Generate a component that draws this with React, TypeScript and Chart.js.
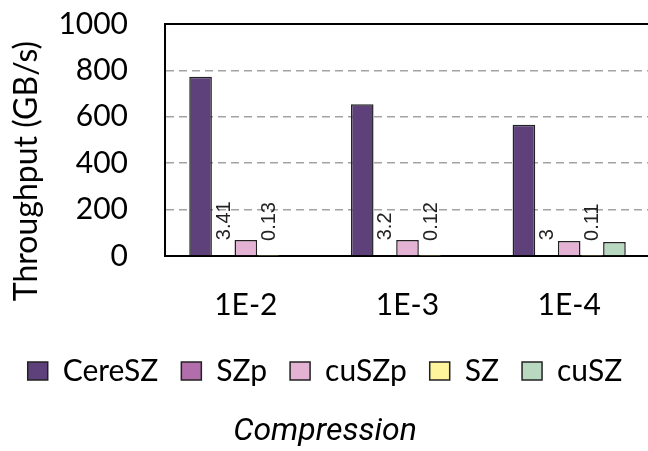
import React, { useEffect, useRef } from 'react';
import { Chart, registerables } from 'chart.js';

Chart.register(...registerables);

// ---- data ----
const categories = ['1E-2', '1E-3', '1E-4'];
const seriesNames = ['CereSZ', 'SZp', 'cuSZp', 'SZ', 'cuSZ'];
const cereSZValues = [773, 654, 566];
const szpValues = [3.41, 3.2, 3];
const cuSZpValues = [69, 69, 65];
const szValues = [0.13, 0.12, 0.11];
const cuSZValues: (number | null)[] = [null, null, 60];
const yTickValues = [0, 200, 400, 600, 800, 1000];
const labeledSeries = ['SZp', 'SZ'];
const yAxisTitle = 'Throughput (GB/s)';
const xAxisTitle = 'Compression';

// ---- styles ----
const fillColors = ['#5e417b', '#b26eaa', '#e4b3d4', '#fff59c', '#b8d8bf'];
const edgeColor = '#222222';
const tickFont = 'Lato';

const seriesValues = [cereSZValues, szpValues, cuSZpValues, szValues, cuSZValues];

const decorPlugin = {
  id: 'decor',
  afterDatasetsDraw(chart: any) {
    const { ctx, chartArea } = chart;
    // top frame line
    ctx.save();
    ctx.strokeStyle = '#000';
    ctx.lineWidth = 2;
    ctx.beginPath();
    ctx.moveTo(chartArea.left - 1, chartArea.top);
    ctx.lineTo(chartArea.right + 2, chartArea.top);
    ctx.stroke();
    ctx.restore();

    // rotated value labels
    chart.data.datasets.forEach((ds: any, i: number) => {
      if (!labeledSeries.includes(ds.label)) return;
      const meta = chart.getDatasetMeta(i);
      meta.data.forEach((bar: any, j: number) => {
        const v = ds.data[j];
        if (v === null || v === undefined) return;
        ctx.save();
        ctx.translate(bar.x + 1, bar.y - 15);
        ctx.rotate(-Math.PI / 2);
        ctx.font = '20px "Liberation Sans", Arial, sans-serif';
        ctx.fillStyle = '#222';
        ctx.textAlign = 'left';
        ctx.textBaseline = 'middle';
        ctx.fillText(String(v), 0, 0);
        ctx.restore();
      });
    });

    // y axis title
    ctx.save();
    ctx.translate(27, 171);
    ctx.rotate(-Math.PI / 2);
    ctx.font = `32px ${tickFont}`;
    ctx.fillStyle = '#000';
    ctx.textAlign = 'center';
    ctx.textBaseline = 'middle';
    ctx.fillText(yAxisTitle, 0, 0);
    ctx.restore();
  },
};

export default function App() {
  const canvasRef = useRef<HTMLCanvasElement | null>(null);

  useEffect(() => {
    if (!canvasRef.current) return;
    const chart = new Chart(canvasRef.current, {
      type: 'bar',
      data: {
        labels: categories,
        datasets: seriesNames.map((name, i) => ({
          label: name,
          data: seriesValues[i],
          backgroundColor: fillColors[i],
          borderColor: edgeColor,
          borderWidth: 1.5,
          categoryPercentage: 0.7,
          barPercentage: 1.0,
        })),
      },
      options: {
        responsive: false,
        animation: false,
        layout: { padding: { top: 24, left: 0, right: 2, bottom: 0 } },
        scales: {
          x: {
            grid: { display: false, drawTicks: false },
            border: { display: true, color: '#000', width: 2 },
            ticks: {
              font: { family: tickFont, size: 30 },
              color: '#000',
              padding: 31,
            },
            afterFit: (s: any) => {
              s.height = 77;
              s.paddingLeft = 0;
              s.paddingRight = 0;
            },
          },
          y: {
            min: 0,
            max: 1000,
            afterBuildTicks: (s: any) => {
              s.ticks = yTickValues.map((v) => ({ value: v }));
            },
            grid: {
              drawTicks: false,
              lineWidth: 1.5,
              color: (c: any) =>
                c.tick && (c.tick.value === 0 || c.tick.value === 1000)
                  ? 'rgba(0,0,0,0)'
                  : '#a3a3a3',
            },
            border: { display: true, color: '#000', width: 2, dash: [8, 5] },
            ticks: {
              font: { family: tickFont, size: 30 },
              color: '#000',
              padding: 37,
              callback: (v: any) => String(v),
            },
            afterFit: (s: any) => {
              s.width = 165;
              s.paddingTop = 0;
              s.paddingBottom = 0;
            },
          },
        },
        plugins: {
          tooltip: { enabled: false },
          legend: {
            position: 'bottom',
            maxHeight: 53,
            labels: {
              font: { family: tickFont, size: 30 },
              color: '#000',
              boxWidth: 20,
              boxHeight: 18,
              padding: 23,
            },
          },
          title: {
            display: true,
            position: 'bottom',
            text: xAxisTitle,
            color: '#000',
            font: { family: 'Roboto', size: 32, style: 'italic', weight: 'normal' },
            padding: { top: 26.6, bottom: 0 },
          },
        },
      },
      plugins: [decorPlugin],
    });
    return () => chart.destroy();
  }, []);

  return (
    <div
      style={{
        position: 'fixed',
        left: 0,
        top: 0,
        width: 648,
        height: 451,
        overflow: 'hidden',
        background: '#fff',
      }}
    >
      <canvas ref={canvasRef} width={652} height={451} style={{ width: 652, height: 451 }} />
    </div>
  );
}
